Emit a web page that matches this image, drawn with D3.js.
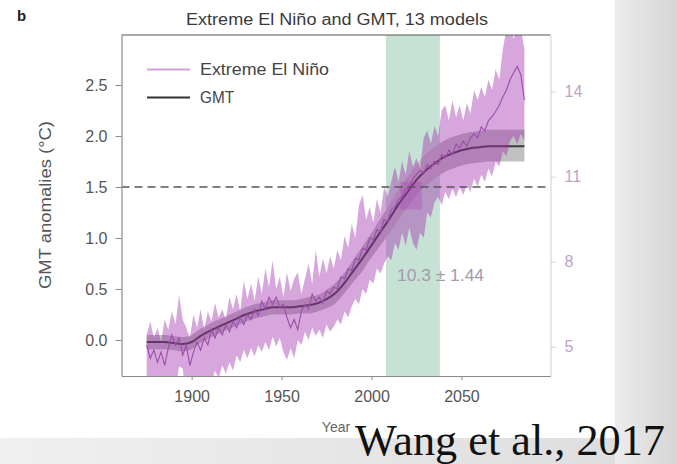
<!DOCTYPE html>
<html>
<head>
<meta charset="utf-8">
<script src="https://cdn.jsdelivr.net/npm/d3@7"></script>
<style>
  html, body { margin: 0; padding: 0; background: #fff; }
  svg { display: block; font-family: "Liberation Sans", Arial, sans-serif; }
</style>
</head>
<body>
<svg id="chart" width="677" height="464"></svg>
<script>
// ---------------- DATA ----------------
const xTicks = [1900, 1950, 2000, 2050];
const yTicksLeft = [0.0, 0.5, 1.0, 1.5, 2.0, 2.5];
const yTicksRight = [5, 8, 11, 14];
const threshold = 1.5;
const windowYears = [2008, 2038];          // green window when GMT reaches 1.5 °C
const crossYears = [2016, 2028];           // darker marker at the 1.5 °C crossing
const crossRange = [1.28, 1.55];
const annotation = "10.3 ± 1.44";

// GMT multi-model mean (°C) and spread
const gmtYears = [1875,1880,1885,1890,1895,1900,1905,1910,1915,1920,1925,1930,1935,1940,1945,1950,1955,1960,1965,1970,1975,1980,1985,1990,1995,2000,2005,2010,2015,2020,2025,2030,2035,2040,2045,2050,2055,2060,2065,2070,2075,2080,2085];
const gmtMean  = [-0.02,-0.02,-0.02,-0.03,-0.04,-0.02,0.04,0.09,0.13,0.17,0.21,0.25,0.28,0.30,0.32,0.32,0.32,0.33,0.34,0.36,0.40,0.46,0.56,0.68,0.80,0.93,1.06,1.19,1.33,1.45,1.57,1.66,1.73,1.79,1.83,1.86,1.88,1.89,1.90,1.90,1.90,1.90,1.90];
const gmtLow   = [-0.09,-0.09,-0.09,-0.10,-0.11,-0.09,-0.03,0.02,0.06,0.10,0.14,0.18,0.21,0.23,0.25,0.25,0.25,0.26,0.26,0.28,0.31,0.36,0.46,0.57,0.68,0.81,0.93,1.05,1.18,1.30,1.42,1.51,1.58,1.64,1.68,1.71,1.73,1.74,1.75,1.75,1.75,1.75,1.75];
const gmtHigh  = [0.05,0.05,0.05,0.04,0.03,0.05,0.11,0.16,0.20,0.24,0.28,0.32,0.35,0.37,0.39,0.39,0.39,0.40,0.42,0.44,0.49,0.56,0.66,0.79,0.92,1.05,1.19,1.33,1.48,1.60,1.72,1.82,1.89,1.95,1.99,2.02,2.04,2.05,2.06,2.06,2.06,2.06,2.06];

// Extreme El Niño frequency (events per 100 years, right axis) and spread
const ensoYears = [1875,1877,1879,1881,1883,1885,1887,1889,1891,1893,1895,1897,1899,1901,1903,1905,1907,1909,1911,1913,1915,1917,1919,1921,1923,1925,1927,1929,1931,1933,1935,1937,1939,1941,1943,1945,1947,1949,1951,1953,1955,1957,1959,1961,1963,1965,1967,1969,1971,1973,1975,1977,1979,1981,1983,1985,1987,1989,1991,1993,1995,1997,1999,2001,2003,2005,2007,2009,2011,2013,2015,2017,2019,2021,2023,2025,2027,2029,2031,2033,2035,2037,2039,2041,2043,2045,2047,2049,2051,2053,2055,2057,2059,2061,2063,2065,2067,2069,2071,2073,2075,2077,2079,2081,2083,2085];
const ensoMean = [5.06,4.59,4.88,4.45,4.81, 4.34,4.95,5.42,5.06,5.31, 4.70,5.06,4.34,4.81,5.17, 4.88,5.31,5.06,5.60,5.31, 5.67,5.42,5.78,5.53,5.89, 5.67,6.03,5.78,6.14,5.96, 6.32,6.10,6.61,6.32,6.75, 6.50,6.75,6.39,6.50,6.03, 5.67,5.96,5.60,6.25,6.50, 6.32,6.86,6.61,6.75,6.54, 6.97,6.86,7.11,7.04,7.47, 7.40,7.76,7.69,8.12,8.05, 8.48,8.41,8.84,8.77,9.13, 9.06,9.49,9.42,9.85,9.92, 10.21,10.28,10.57,10.64,10.93, 11.07,11.22,11.14,11.43,11.29, 11.54,11.43,11.79,11.65,11.94, 11.79,12.15,12.01,12.26,12.08, 12.37,12.51,12.37,12.76,12.62, 12.98,13.12,13.30,13.52,13.81, 14.06,14.42,14.67,14.89,14.60, 13.70];
const ensoHigh = [5.42,5.89,5.31,5.67,5.17, 5.96,5.60,6.25,5.78,6.82, 5.96,5.67,5.31,6.14,5.67, 6.32,5.60,6.25,5.89,6.54, 6.03,6.32,5.96,6.75,6.32, 6.86,6.25,7.33,6.68,7.22, 6.61,7.47,6.86,7.76,7.11, 8.05,7.04,7.47,6.75,7.62, 6.97,7.40,7.62,6.86,7.40, 7.94,7.22,8.41,7.47,8.12, 7.58,8.19,7.76,8.41,8.05, 8.91,8.48,9.34,8.84,9.99, 10.35,9.49,9.92,9.38,10.21, 9.74,10.64,10.28,10.82,11.36, 10.82,11.54,11.07,11.90,11.36, 11.65,11.29,12.37,12.62,12.15, 12.80,12.44,13.34,13.52,12.98, 13.70,13.09,13.52,12.98,13.59, 13.23,14.06,13.70,14.17,13.81, 14.42,14.06,14.78,14.42,15.50, 16.22,16.40,15.86,16.40,16.22, 15.50];
const ensoLow  = [3.26,3.80,3.08,3.62,3.08, 3.44,3.26,3.80,3.44,4.30, 4.23,3.26,3.08,3.62,3.26, 3.80,3.26,3.98,3.62,4.16, 3.87,4.34,4.05,4.45,4.16, 4.70,4.45,4.88,4.59,4.95, 4.66,5.06,4.81,5.17,4.88, 5.35,5.02,5.31,4.81,4.52, 4.95,4.59,5.24,5.06,5.53, 5.24,5.67,5.38,5.60,5.31, 5.78,5.53,5.71,5.96,5.78, 6.25,6.03,6.43,6.68,6.50, 7.04,6.86,7.36,7.22,7.76, 7.58,7.94,8.19,8.05,8.66, 8.41,9.02,8.55,9.20,8.66, 8.41,9.02,8.84,9.74,9.56, 10.10,10.28,9.99,10.46,10.21, 10.57,10.28,10.64,10.35,10.71, 10.46,10.93,10.64,11.07,10.82, 11.29,11.00,11.54,11.36,11.90, 11.72,12.26,12.44,12.15,12.51, 12.26];

// ---------------- LAYOUT ----------------
const svg = d3.select("#chart");
const L = 121.5, R = 550.5, T = 35, B = 376;

const x  = d3.scaleLinear().domain([1861, 2099.5]).range([L, R]);
const y  = d3.scaleLinear().domain([-0.353, 2.99]).range([B, T]);
const yR = d3.scaleLinear().domain([3.966, 16.0]).range([B, T]);

// background panels (slide)
const defs = svg.append("defs");
const g1 = defs.append("linearGradient").attr("id", "gRight").attr("x1", "0").attr("x2", "1");
g1.append("stop").attr("offset", "0").attr("stop-color", "#ececec");
g1.append("stop").attr("offset", "1").attr("stop-color", "#d5d5d5");
const g2 = defs.append("linearGradient").attr("id", "gBottom").attr("x1", "0").attr("x2", "1");
g2.append("stop").attr("offset", "0").attr("stop-color", "#f0f0f0");
g2.append("stop").attr("offset", "1").attr("stop-color", "#dedede");
defs.append("clipPath").attr("id", "plotClip")
  .append("rect").attr("x", L).attr("y", T).attr("width", R - L).attr("height", B - T);

svg.append("rect").attr("x", 0).attr("y", 438).attr("width", 615).attr("height", 26).attr("fill", "url(#gBottom)");
svg.append("rect").attr("x", 615).attr("y", 0).attr("width", 62).attr("height", 464).attr("fill", "url(#gRight)");

const plot = svg.append("g").attr("clip-path", "url(#plotClip)");

// green window
plot.append("rect")
  .attr("x", x(windowYears[0])).attr("y", T)
  .attr("width", x(windowYears[1]) - x(windowYears[0])).attr("height", B - T)
  .attr("fill", "#c6e2d5");

// GMT spread (grey)
const gmtData = gmtYears.map((yr, i) => ({yr, m: gmtMean[i], lo: gmtLow[i], hi: gmtHigh[i]}));
plot.append("path").datum(gmtData)
  .attr("d", d3.area().x(d => x(d.yr)).y0(d => y(d.lo)).y1(d => y(d.hi)).curve(d3.curveMonotoneX))
  .attr("fill", "#c0c0c0");

// GMT mean line
plot.append("path").datum(gmtData)
  .attr("d", d3.line().x(d => x(d.yr)).y(d => y(d.m)).curve(d3.curveMonotoneX))
  .attr("fill", "none").attr("stroke", "#3d3d3d").attr("stroke-width", 2);

// Extreme El Niño spread (translucent pink)
const ensoData = ensoYears.map((yr, i) => ({yr, m: ensoMean[i], lo: ensoLow[i], hi: ensoHigh[i]}));
plot.append("path").datum(ensoData)
  .attr("d", d3.area().x(d => x(d.yr)).y0(d => yR(d.lo)).y1(d => yR(d.hi)))
  .attr("fill", "#a02cae").attr("fill-opacity", 0.42);

// crossing marker
plot.append("rect")
  .attr("x", x(crossYears[0])).attr("y", y(crossRange[1]))
  .attr("width", x(crossYears[1]) - x(crossYears[0])).attr("height", y(crossRange[0]) - y(crossRange[1]))
  .attr("fill", "#a83cb2").attr("fill-opacity", 0.3);

// Extreme El Niño line
plot.append("path").datum(ensoData)
  .attr("d", d3.line().x(d => x(d.yr)).y(d => yR(d.m)))
  .attr("fill", "none").attr("stroke", "#9a4ea8").attr("stroke-width", 1.1);

// 1.5 °C dashed line
svg.append("line")
  .attr("x1", L).attr("x2", R).attr("y1", y(threshold)).attr("y2", y(threshold))
  .attr("stroke", "#555").attr("stroke-width", 1.4).attr("stroke-dasharray", "8,5");

// ---------------- AXES ----------------
const fontSize = 16;
const xAxis = svg.append("g").attr("transform", `translate(0,${B})`)
  .call(d3.axisBottom(x).tickValues(xTicks).tickFormat(d3.format("d")).tickSize(4).tickPadding(11).tickSizeOuter(0));
const yAxis = svg.append("g").attr("transform", `translate(${L},0)`)
  .call(d3.axisLeft(y).tickValues(yTicksLeft).tickFormat(d3.format(".1f")).tickSize(6).tickPadding(8).tickSizeOuter(0));
const yAxisR = svg.append("g").attr("transform", `translate(${R},0)`)
  .call(d3.axisRight(yR).tickValues(yTicksRight).tickFormat(d3.format("d")).tickSize(5).tickPadding(9).tickSizeOuter(0));

[xAxis, yAxis].forEach(a => {
  a.select(".domain").attr("stroke", "#8a8a8a").attr("stroke-width", 1.2);
  a.selectAll(".tick line").attr("stroke", "#8a8a8a");
  a.selectAll(".tick text").attr("fill", "#555").attr("font-size", fontSize).attr("font-family", "Liberation Sans, Arial, sans-serif");
});
yAxisR.select(".domain").attr("stroke", "#d8d8d8").attr("stroke-width", 1.2);
yAxisR.selectAll(".tick line").attr("stroke", "#d0d0d0");
yAxisR.selectAll(".tick text").attr("fill", "#c0a2c4").attr("font-size", fontSize).attr("font-family", "Liberation Sans, Arial, sans-serif");

// top frame line
svg.append("line").attr("x1", L).attr("x2", R).attr("y1", T).attr("y2", T)
  .attr("stroke", "#555").attr("stroke-width", 1.2);

// ---------------- TEXT ----------------
svg.append("text").attr("x", 17).attr("y", 21).text("b")
  .attr("font-size", 15).attr("font-weight", "bold").attr("fill", "#222");

svg.append("text").attr("x", 337).attr("y", 25).attr("text-anchor", "middle")
  .attr("font-size", 16).attr("fill", "#3a3a3a")
  .attr("textLength", 302).attr("lengthAdjust", "spacingAndGlyphs")
  .text("Extreme El Niño and GMT, 13 models");

svg.append("text")
  .attr("transform", `translate(51,205) rotate(-90)`)
  .attr("text-anchor", "middle").attr("font-size", 16).attr("fill", "#555")
  .attr("textLength", 168).attr("lengthAdjust", "spacingAndGlyphs")
  .text("GMT anomalies (°C)");

svg.append("text").attr("x", 336).attr("y", 432).attr("text-anchor", "middle")
  .attr("font-size", 14).attr("fill", "#666").text("Year");

// legend
const legend = svg.append("g");
const legendItems = [
  {label: "Extreme El Niño", color: "#d2a3d8", y: 69.5, len: 129},
  {label: "GMT", color: "#333", y: 97.5, len: 34}
];
legendItems.forEach(it => {
  legend.append("line").attr("x1", 147).attr("x2", 190).attr("y1", it.y).attr("y2", it.y)
    .attr("stroke", it.color).attr("stroke-width", 2);
  legend.append("text").attr("x", 200).attr("y", it.y + 5.5)
    .attr("font-size", 16).attr("fill", "#444")
    .attr("textLength", it.len).attr("lengthAdjust", "spacingAndGlyphs")
    .text(it.label);
});

// annotation
svg.append("text").attr("x", 397).attr("y", 281)
  .attr("font-size", 16).attr("fill", "#a59aaa")
  .attr("textLength", 87).attr("lengthAdjust", "spacingAndGlyphs")
  .text(annotation);

// citation
svg.append("text").attr("x", 355).attr("y", 455)
  .attr("font-family", "Liberation Serif, 'Times New Roman', serif")
  .attr("font-size", 44).attr("fill", "#111")
  .attr("textLength", 310).attr("lengthAdjust", "spacingAndGlyphs")
  .text("Wang et al., 2017");
</script>
</body>
</html>
